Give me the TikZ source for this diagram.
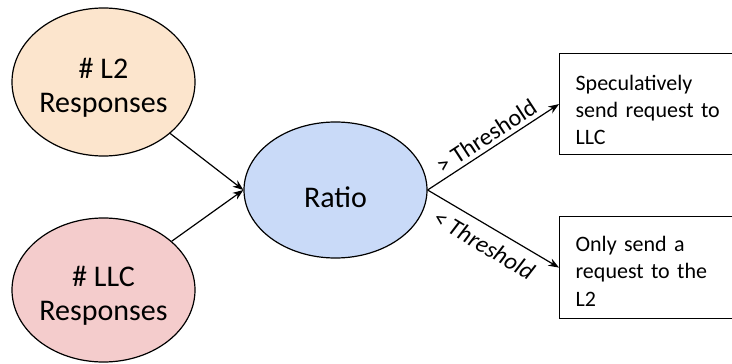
\documentclass[tikz,border=0pt]{standalone}
\usepackage{fontspec}
\setmainfont{Carlito}
\usetikzlibrary{shapes.geometric,arrows.meta}
\definecolor{lorange}{HTML}{FCE5CD}
\definecolor{lred}{HTML}{F4CCCC}
\definecolor{lblue}{HTML}{C9DAF8}
\tikzset{
  oval/.style={ellipse, draw=black, line width=0.9pt, inner sep=0pt, align=center,
    font=\fontsize{22.5pt}{25.5pt}\selectfont},
  outbox/.style={rectangle, draw=black, line width=0.9pt, anchor=north west, align=left,
    text width=130pt, inner xsep=12pt, font=\fontsize{16.5pt}{20.5pt}\selectfont},
  conn/.style={-{Stealth[length=8pt,width=6pt]}, line width=0.9pt},
  lbl/.style={sloped, font=\fontsize{18pt}{20pt}\selectfont}
}
\begin{document}
\begin{tikzpicture}[x=0.75pt,y=-0.75pt]
\useasboundingbox (0,0) rectangle (732,364);
\node[oval, fill=lorange, minimum width=137.25pt, minimum height=111pt] (l2) at (103.5,82) {\rule{0pt}{23.5pt}\# L2\\Responses};
\node[oval, fill=lred, minimum width=137.25pt, minimum height=108pt] (llc) at (103.5,290) {\rule{0pt}{23.5pt}\# LLC\\Responses};
\node[oval, fill=lblue, minimum width=137.25pt, minimum height=102pt] (ratio) at (335.5,190) {\rule{0pt}{26.5pt}Ratio};
\node[outbox, minimum height=75.75pt] (spec) at (559,53) {\rule{0pt}{20pt}Speculatively\\send request to\\LLC};
\node[outbox, minimum height=76.5pt] (only) at (559,216) {\rule{0pt}{17pt}Only send a\\request to the\\L2};
\draw[conn] (l2) -- (ratio.west);
\draw[conn] (llc) -- (ratio.west);
\draw[conn] (ratio.east) -- node[lbl, above, inner sep=3pt] (gt) {> Threshold} (spec.west);
\draw[conn] (ratio.east) -- node[lbl, below, inner sep=7pt, font=\fontsize{18pt}{20pt}\selectfont\itshape] (lt) {< Threshold} (only.west);
\end{tikzpicture}
\end{document}
